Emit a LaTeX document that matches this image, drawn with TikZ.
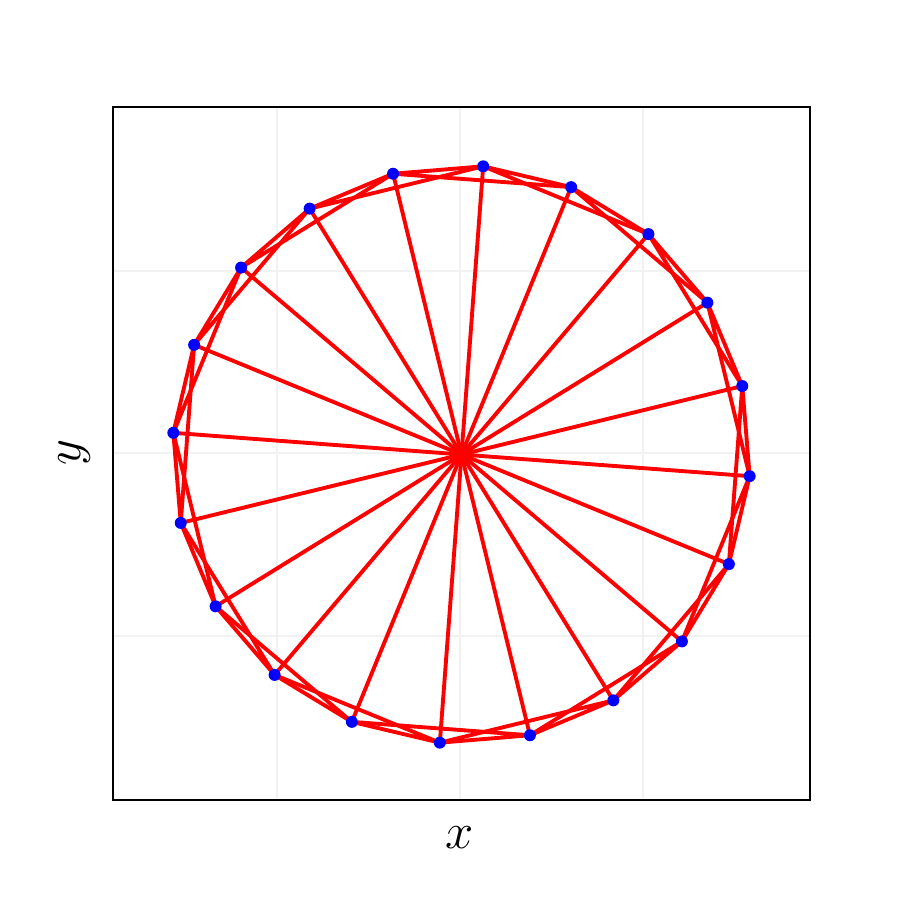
\documentclass[tikz,border=0pt]{standalone}
\usepackage{tikz}
\usetikzlibrary{calc}

\begin{document}
\begin{tikzpicture}[x=0.01cm,y=0.01cm,
  frame/.style={draw=black,line width=0.6pt},
  gridline/.style={draw=black!5,line width=0.4pt},
  spoke/.style={red,line width=1.1pt,line cap=round,line join=round},
  dot/.style={circle,fill=blue,inner sep=0pt,minimum size=0.12cm},
  lbl/.style={font=\fontsize{15}{18}\selectfont}]
\useasboundingbox (0,0) rectangle (900,900);
% grid and frame
\foreach \gx in {277,460,643} \draw[gridline] (\gx,100) -- (\gx,793);
\foreach \gy in {264,447,629} \draw[gridline] (113,\gy) -- (810,\gy);
\draw[frame] (113,100) rectangle (810,793);
\node[lbl] (xlab) at (460,62) {$x$};
\node[lbl,rotate=90] (ylab) at (75,447) {$y$};
% points on the circle
\coordinate (c) at (461.5,445.5);
\foreach \i in {0,...,19}{
  \pgfmathsetmacro\a{85.7-18*\i}
  \coordinate (p\i) at ($(c)+(\a:289)$);
}
\foreach \i in {0,...,19} \draw[spoke] (c) -- (p\i);
\foreach \i in {0,...,19}{
  \pgfmathtruncatemacro\j{mod(\i+1,20)}
  \pgfmathtruncatemacro\k{mod(\i+2,20)}
  \draw[spoke] (p\i) -- (p\j) (p\i) -- (p\k);
}
\foreach \i in {0,...,19} \node[dot] (d\i) at (p\i) {};
\end{tikzpicture}
\end{document}
